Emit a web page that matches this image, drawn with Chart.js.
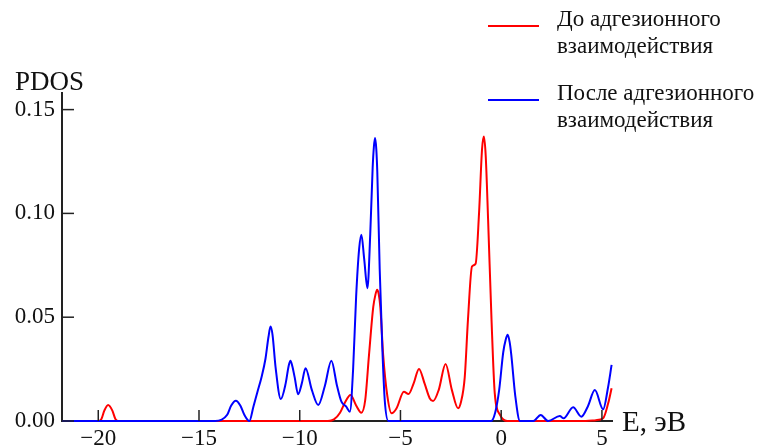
<!DOCTYPE html>
<html lang="ru">
<head>
<meta charset="UTF-8">
<title>PDOS</title>
<script src="https://cdn.jsdelivr.net/npm/chart.js"></script>
<style>
  html, body { margin: 0; padding: 0; background: #fff; }
  canvas { display: block; }
</style>
</head>
<body>
<canvas id="pdos" width="768" height="448"></canvas>
<script>
// energy axis ticks and PDOS ticks
const xTicks = [-20, -15, -10, -5, 0, 5];
const yTicks = [0, 0.05, 0.10, 0.15];

// red: before adhesion
const beforeE = [-21.8, -20.0, -19.85, -19.7, -19.51, -19.3, -19.15, -19.0,
  -8.6, -8.3, -8.0, -7.75, -7.48, -7.2, -6.94, -6.75, -6.56, -6.35, -6.25, -6.16, -6.08, -6.0, -5.86, -5.65, -5.44,
  -5.2, -4.83, -4.6, -4.35, -4.08, -3.8, -3.55, -3.38, -3.1, -2.76, -2.45, -2.14, -2.0, -1.81, -1.65,
  -1.45, -1.27, -1.1, -0.95, -0.86, -0.77, -0.65, -0.48, -0.32, -0.06, 0.3, 4.2, 4.7, 5.06, 5.31, 5.48];
const beforePDOS = [0, 0, 0.0008, 0.005, 0.0077, 0.005, 0.001, 0,
  0, 0.0008, 0.004, 0.009, 0.0125, 0.0075, 0.004, 0.01, 0.032, 0.055, 0.0605, 0.0632, 0.0612, 0.055, 0.032, 0.012, 0.0037,
  0.006, 0.0141, 0.013, 0.018, 0.0251, 0.018, 0.011, 0.0096, 0.015, 0.0275, 0.015, 0.0061, 0.009, 0.021, 0.0487,
  0.0744, 0.0757, 0.100, 0.131, 0.137, 0.128, 0.097, 0.0487, 0.0134, 0.003, 0, 0, 0.0004, 0.0013, 0.0085, 0.0158];

// blue: after adhesion
const afterE = [-21.8, -14.2, -13.9, -13.6, -13.4, -13.17, -12.95, -12.75, -12.5,
  -12.3, -12.1, -11.9, -11.7, -11.55, -11.45, -11.35, -11.2, -10.94, -10.7, -10.55, -10.46, -10.37, -10.25, -10.08, -9.9, -9.71,
  -9.4, -9.08, -8.75, -8.43, -8.15, -7.93, -7.7, -7.51, -7.35, -7.2, -7.05, -6.94, -6.8, -6.64, -6.5,
  -6.38, -6.32, -6.26, -6.2, -6.15, -6.03, -5.9, -5.78, -5.6, -0.5, -0.3, -0.1, 0.1, 0.22, 0.32, 0.42, 0.5, 0.7, 0.93,
  1.6, 1.96, 2.33, 2.91, 3.1, 3.57, 3.98, 4.3, 4.65, 5.06, 5.3, 5.48];
const afterPDOS = [0, 0, 0.0005, 0.003, 0.0075, 0.0098, 0.0075, 0.003, 0,
  0.0069, 0.014, 0.021, 0.030, 0.0406, 0.0455, 0.0415, 0.026, 0.0106, 0.018, 0.0265, 0.029, 0.0265, 0.021, 0.0129, 0.018, 0.0254,
  0.015, 0.0077, 0.017, 0.029, 0.017, 0.0093, 0.007, 0.0045, 0.025, 0.06, 0.083, 0.0897, 0.078, 0.064, 0.09,
  0.122, 0.132, 0.1363, 0.131, 0.12, 0.073, 0.035, 0.010, 0, 0, 0.004, 0.015, 0.033, 0.039, 0.0415, 0.038, 0.032, 0.012, 0,
  0, 0.0029, 0, 0.0024, 0.0013, 0.0066, 0.0021, 0.007, 0.0149, 0.0056, 0.016, 0.027];

const legendLabels = [
  ['До адгезионного', 'взаимодействия'],
  ['После адгезионного', 'взаимодействия']
];

const serif = '"Liberation Serif", "Times New Roman", serif';

function pts(xs, ys) {
  return xs.map((x, i) => ({ x: x, y: ys[i] }));
}

// tick marks point into the plot, titles and legend sit outside it
const decorations = {
  id: 'decorations',
  afterDraw(chart) {
    const { ctx, chartArea, scales } = chart;
    const x = scales.x, y = scales.y;
    ctx.save();
    ctx.strokeStyle = '#222';
    ctx.lineWidth = 1.5;
    x.ticks.forEach(t => {
      const px = x.getPixelForValue(t.value);
      ctx.beginPath();
      ctx.moveTo(px, chartArea.bottom);
      ctx.lineTo(px, chartArea.bottom - 11);
      ctx.stroke();
    });
    y.ticks.forEach(t => {
      const py = y.getPixelForValue(t.value);
      ctx.beginPath();
      ctx.moveTo(chartArea.left, py);
      ctx.lineTo(chartArea.left + 12, py);
      ctx.stroke();
    });

    ctx.fillStyle = '#111';
    ctx.textAlign = 'left';
    ctx.textBaseline = 'alphabetic';
    ctx.font = '27px ' + serif;
    ctx.fillText('PDOS', 15, 90);
    ctx.font = '29px ' + serif;
    ctx.fillText('E, эВ', 622, 431);

    // legend
    const colors = ['#ff0000', '#0000ff'];
    const lineY = [26, 100];
    ctx.font = '23px ' + serif;
    legendLabels.forEach((lines, i) => {
      ctx.strokeStyle = colors[i];
      ctx.lineWidth = 2;
      ctx.beginPath();
      ctx.moveTo(488, lineY[i]);
      ctx.lineTo(539, lineY[i]);
      ctx.stroke();
      lines.forEach((txt, j) => ctx.fillText(txt, 557, lineY[i] + j * 27));
    });
    ctx.restore();
  }
};

new Chart(document.getElementById('pdos'), {
  type: 'line',
  data: {
    datasets: [
      { label: 'После адгезионного взаимодействия', data: pts(afterE, afterPDOS), borderColor: '#0000ff', borderWidth: 2, pointRadius: 0, cubicInterpolationMode: 'monotone', fill: false, clip: false },
      { label: 'До адгезионного взаимодействия', data: pts(beforeE, beforePDOS), borderColor: '#ff0000', borderWidth: 2, pointRadius: 0, cubicInterpolationMode: 'monotone', fill: false, clip: false }
    ]
  },
  options: {
    responsive: false,
    animation: false,
    devicePixelRatio: 1,
    layout: { padding: { top: 93, right: 156, left: 0, bottom: 0 } },
    plugins: { legend: { display: false }, tooltip: { enabled: false } },
    scales: {
      x: {
        type: 'linear',
        min: -21.8,
        max: 5.5,
        afterBuildTicks: s => { s.ticks = xTicks.map(v => ({ value: v })); },
        afterFit: s => { s.height = 27; },
        grid: { display: false, drawTicks: false },
        border: { display: true, color: '#222', width: 2 },
        ticks: {
          padding: 4,
          color: '#111',
          font: { family: serif, size: 23 },
          callback: v => String(v).replace('-', '\u2212')
        }
      },
      y: {
        min: 0,
        max: 0.158,
        afterBuildTicks: s => { s.ticks = yTicks.map(v => ({ value: v })); },
        afterFit: s => { s.width = 62; },
        grid: { display: false, drawTicks: false },
        border: { display: true, color: '#222', width: 2 },
        ticks: {
          padding: 7,
          color: '#111',
          font: { family: serif, size: 23 },
          callback: v => v.toFixed(2)
        }
      }
    }
  },
  plugins: [decorations]
});
</script>
</body>
</html>
